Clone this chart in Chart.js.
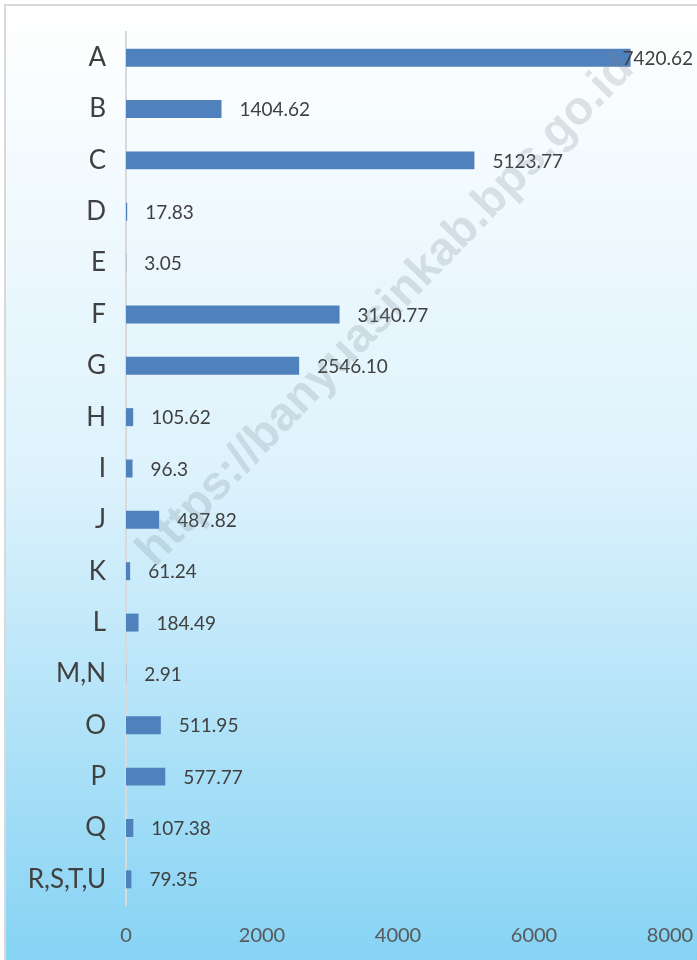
<!DOCTYPE html>
<html><head><meta charset="utf-8">
<script src="https://cdn.jsdelivr.net/npm/chart.js@4.4.0/dist/chart.umd.min.js"></script>
<style>html,body{margin:0;padding:0;background:#fff;overflow:hidden}canvas{display:block}</style>
</head><body>
<canvas id="c" width="697" height="960"></canvas>
<script>
const categories = ["A","B","C","D","E","F","G","H","I","J","K","L","M,N","O","P","Q","R,S,T,U"];
const values = [7420.62,1404.62,5123.77,17.83,3.05,3140.77,2546.10,105.62,96.3,487.82,61.24,184.49,2.91,511.95,577.77,107.38,79.35];
const valueLabels = ["7420.62","1404.62","5123.77","17.83","3.05","3140.77","2546.10","105.62","96.3","487.82","61.24","184.49","2.91","511.95","577.77","107.38","79.35"];
const xTickValues = [0,2000,4000,6000,8000];
const watermarkText = "https://banyuasinkab.bps.go.id";

const FONT = "Lato, 'Open Sans', sans-serif";

const bgPlugin = {
  id: 'bg',
  beforeDraw(chart) {
    const ctx = chart.ctx, W = chart.width, H = chart.height;
    ctx.save();
    ctx.fillStyle = '#ffffff';
    ctx.fillRect(0, 0, W, H);
    const g = ctx.createLinearGradient(0, 6, 0, H);
    g.addColorStop(0, '#ffffff');
    g.addColorStop(0.5, '#dcf2fc');
    g.addColorStop(1, '#86d3f4');
    ctx.fillStyle = g;
    ctx.fillRect(6, 6, W - 6, H - 6);
    ctx.fillStyle = '#d9d9d9';
    ctx.fillRect(4, 4, W - 4, 2);
    ctx.fillRect(4, 4, 2, H - 4);
    ctx.restore();
  }
};

const labelPlugin = {
  id: 'vlabels',
  afterDatasetsDraw(chart) {
    const ctx = chart.ctx;
    const meta = chart.getDatasetMeta(0);
    ctx.save();
    ctx.font = "19px " + FONT;
    ctx.fillStyle = '#404040';
    ctx.textBaseline = 'middle';
    ctx.textAlign = 'left';
    meta.data.forEach((el, i) => {
      const t = valueLabels[i];
      const w = ctx.measureText(t).width;
      let x = el.x + 18;
      if (x + w > 693) x = 693 - w;
      ctx.fillText(t, x, el.y + 1);
    });
    ctx.restore();
  },
  afterDraw(chart) {
    const ctx = chart.ctx;
    ctx.save();
    ctx.translate(386, 310);
    ctx.rotate(-46 * Math.PI / 180);
    ctx.font = "bold 47px 'Liberation Sans', Arial, sans-serif";
    ctx.fillStyle = 'rgba(120,130,140,0.22)';
    ctx.textAlign = 'center';
    ctx.textBaseline = 'middle';
    ctx.fillText(watermarkText, 0, 0);
    ctx.restore();
  }
};

new Chart(document.getElementById('c'), {
  type: 'bar',
  data: {
    labels: categories,
    datasets: [{
      data: values,
      backgroundColor: '#4f81bd',
      borderWidth: 0,
      categoryPercentage: 1,
      barPercentage: 0.35
    }]
  },
  options: {
    indexAxis: 'y',
    responsive: false,
    animation: false,
    devicePixelRatio: 1,
    layout: { padding: { left: 0, right: 27, top: 32, bottom: 0 } },
    plugins: { legend: { display: false }, tooltip: { enabled: false } },
    scales: {
      x: {
        type: 'linear', min: 0, max: 8000,
        afterBuildTicks(s) { s.ticks = xTickValues.map(v => ({ value: v })); },
        grid: { display: false, drawTicks: false },
        border: { display: false },
        ticks: { font: { size: 20, family: FONT }, color: '#595959', padding: 19,
                 callback: v => String(v) },
        afterFit(s) { s.height = 55; s.paddingLeft = 0; s.paddingRight = 0; }
      },
      y: {
        type: 'category',
        grid: { display: false, drawTicks: false },
        border: { display: true, color: '#d9d9d9', width: 2 },
        ticks: { font: { size: 26, family: FONT }, color: '#404040', padding: 20 },
        afterFit(s) { s.width = 126; s.paddingTop = 0; s.paddingBottom = 0; }
      }
    }
  },
  plugins: [bgPlugin, labelPlugin]
});
</script>
</body></html>
